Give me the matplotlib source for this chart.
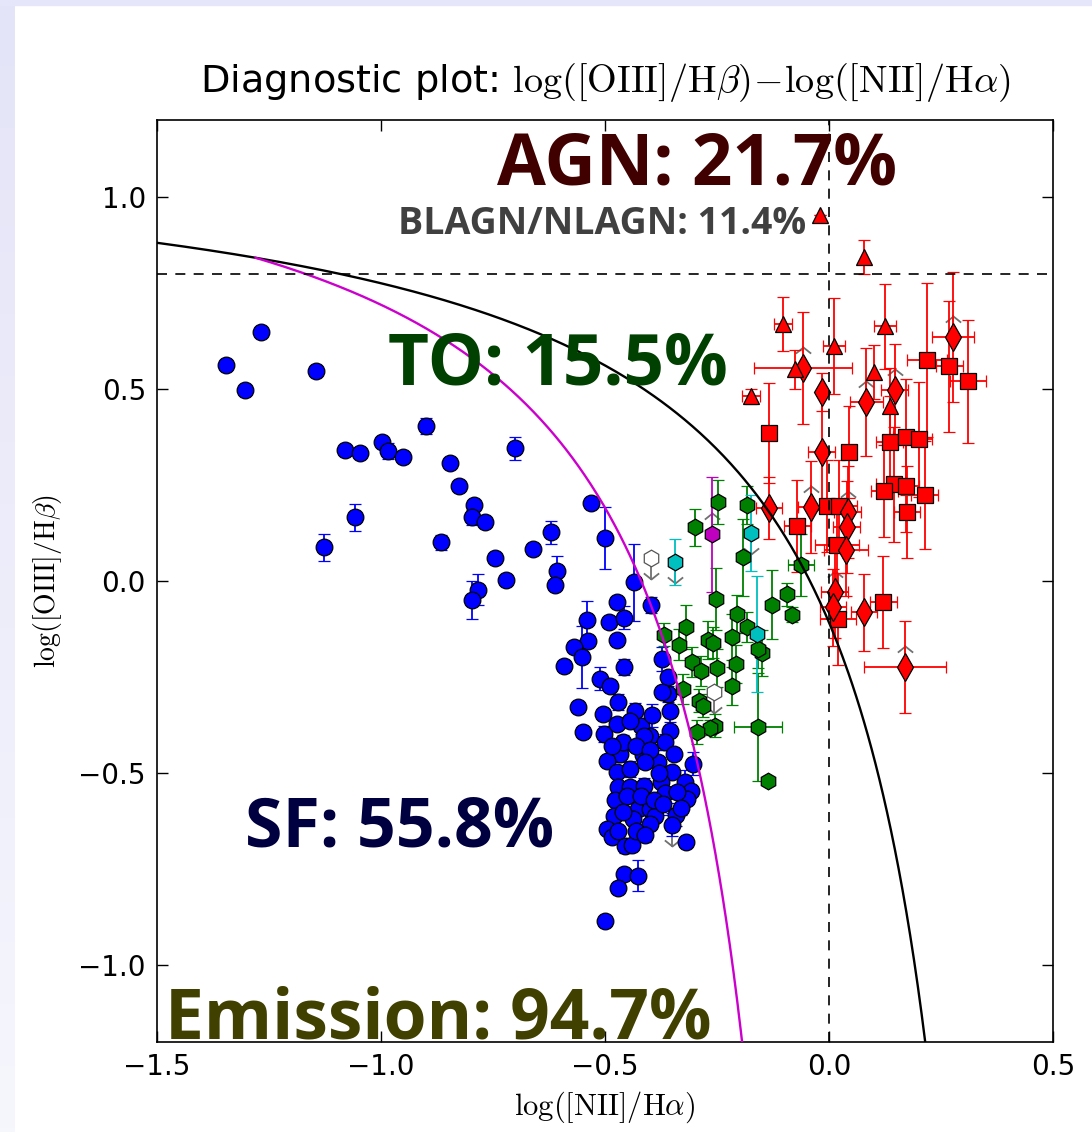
import numpy as np
import matplotlib
matplotlib.use('Agg')
import matplotlib.pyplot as plt
from matplotlib.path import Path
from matplotlib.patches import Rectangle
from matplotlib.colors import LinearSegmentedColormap

plt.rcParams['mathtext.fontset'] = 'cm'
plt.rcParams['font.family'] = ['DejaVu Sans']

# --- star-forming galaxies (blue circles): x, y, y error
sf_x = [-1.268, -1.346, -1.304, -1.145, -0.900, -1.080, -1.047, -0.998, -0.984, -0.951,
        -0.846, -0.826, -0.701, -0.792, -0.797, -0.768, -1.058, -1.127, -0.866, -0.746,
        -0.721, -0.661, -0.621, -0.607, -0.612, -0.531, -0.783, -0.797, -0.540, -0.500,
        -0.435, -0.397, -0.473, -0.491, -0.458, -0.473, -0.538, -0.569, -0.551, -0.592,
        -0.458, -0.511, -0.489, -0.471, -0.560, -0.504, -0.433, -0.549, -0.502, -0.473,
        -0.420, -0.400, -0.373, -0.359, -0.359, -0.355, -0.355, -0.366, -0.467, -0.415,
        -0.496, -0.473, -0.444, -0.382, -0.350, -0.304, -0.471, -0.444, -0.413, -0.375,
        -0.366, -0.321, -0.308, -0.317, -0.478, -0.426, -0.400, -0.388, -0.437, -0.480,
        -0.342, -0.350, -0.400, -0.496, -0.484, -0.455, -0.440, -0.319, -0.458, -0.426,
        -0.471, -0.500, -0.373, -0.444, -0.413,
        -0.460, -0.430, -0.400, -0.450, -0.420, -0.390, -0.460, -0.430, -0.370, -0.340,
        -0.330, -0.410, -0.380, -0.470, -0.410, -0.485, -0.395, -0.345]
sf_y = [0.648, 0.562, 0.497, 0.546, 0.403, 0.341, 0.333, 0.362, 0.338, 0.322,
        0.307, 0.247, 0.346, 0.198, 0.166, 0.153, 0.166, 0.088, 0.101, 0.060,
        0.003, 0.083, 0.127, 0.026, -0.010, 0.203, -0.023, -0.049, -0.101, 0.112,
        -0.003, -0.062, -0.055, -0.107, -0.096, -0.153, -0.156, -0.172, -0.198, -0.221,
        -0.224, -0.255, -0.273, -0.315, -0.328, -0.346, -0.338, -0.393, -0.398, -0.372,
        -0.377, -0.403, -0.203, -0.250, -0.294, -0.338, -0.390, -0.419, -0.450, -0.453,
        -0.468, -0.497, -0.489, -0.471, -0.497, -0.476, -0.536, -0.536, -0.533, -0.523,
        -0.551, -0.523, -0.546, -0.567, -0.570, -0.593, -0.593, -0.611, -0.619, -0.611,
        -0.609, -0.634, -0.632, -0.645, -0.666, -0.689, -0.687, -0.679, -0.762, -0.767,
        -0.798, -0.884, -0.289, -0.364, -0.403,
        -0.420, -0.430, -0.440, -0.560, -0.560, -0.570, -0.600, -0.650, -0.580, -0.550,
        -0.590, -0.470, -0.500, -0.650, -0.660, -0.430, -0.350, -0.450]
sf_yerr = [0, 0, 0, 0, 0.02, 0, 0, 0, 0.02, 0,
           0, 0, 0.03, 0, 0.02, 0, 0.035, 0.035, 0.02, 0,
           0, 0, 0.03, 0.04, 0, 0, 0.04, 0.05, 0.05, 0.08,
           0.10, 0.02, 0, 0, 0.03, 0, 0, 0, 0.08, 0,
           0.02, 0.03, 0, 0.02, 0, 0, 0.02, 0, 0.02, 0,
           0.02, 0, 0.03, 0, 0.02, 0.03, 0, 0.02, 0.02, 0,
           0, 0, 0.02, 0.03, 0, 0.03, 0, 0, 0.02, 0,
           0, 0.03, 0, 0, 0, 0, 0.02, 0, 0, 0,
           0.03, 0.03, 0, 0, 0, 0.02, 0, 0, 0, 0.04,
           0, 0, 0, 0, 0,
           0.02, 0, 0.03, 0, 0.02, 0, 0.02, 0, 0.03, 0,
           0.02, 0, 0.02, 0, 0.02, 0, 0.03, 0]

# --- transition objects (green hexagons)
to_x = [-0.248, -0.183, -0.299, -0.192, -0.0625, -0.252, -0.094, -0.127, -0.083, -0.205,
        -0.183, -0.319, -0.368, -0.335, -0.270, -0.259, -0.217, -0.150, -0.158, -0.306,
        -0.286, -0.250, -0.208, -0.217, -0.326, -0.290, -0.281, -0.254, -0.266, -0.295,
        -0.158, -0.136]
to_y = [0.205, 0.198, 0.140, 0.062, 0.042, -0.047, -0.034, -0.062, -0.088, -0.086,
        -0.120, -0.120, -0.140, -0.166, -0.153, -0.161, -0.146, -0.187, -0.177, -0.211,
        -0.234, -0.226, -0.216, -0.273, -0.281, -0.312, -0.325, -0.377, -0.382, -0.393,
        -0.380, -0.520]
to_xerr = [0, 0, 0, 0, 0.03, 0, 0, 0, 0, 0,
           0, 0, 0, 0, 0, 0, 0, 0, 0, 0,
           0, 0, 0, 0, 0, 0, 0, 0, 0, 0,
           0.053, 0]
to_yerr = [0.057, 0.05, 0.048, 0.10, 0.08, 0.08, 0.03, 0.09, 0.02, 0.05,
           0.04, 0.058, 0.03, 0.04, 0.05, 0.04, 0.06, 0.06, 0.05, 0.04,
           0.04, 0.05, 0.05, 0.05, 0.04, 0.03, 0.03, 0.03, 0.02, 0.03,
           0.14, 0]

# cyan, magenta and white transition objects
cy_x = [-0.344, -0.174, -0.161]
cy_y = [0.049, 0.125, -0.138]
cy_yerr = [0.06, 0.10, 0.15]
mg_x = [-0.261]
mg_y = [0.122]
mg_yerr = [0.15]
wh_x = [-0.397, -0.257]
wh_y = [0.060, -0.289]

# --- AGN (red): squares, diamonds, triangles
sq_x = [0.219, 0.268, 0.310, -0.134, 0.045, 0.136, 0.172, 0.201, 0.145, 0.172,
        0.123, 0.214, 0.174, -0.004, 0.022, -0.071, 0.018, 0.020, 0.121]
sq_y = [0.575, 0.559, 0.520, 0.385, 0.335, 0.362, 0.375, 0.369, 0.252, 0.247,
        0.234, 0.224, 0.179, 0.195, 0.195, 0.143, 0.094, -0.099, -0.055]
sq_xerr = [0.045, 0.03, 0.04, 0, 0, 0.03, 0.03, 0.03, 0.04, 0.03,
           0.03, 0.03, 0.03, 0.04, 0.04, 0.03, 0.05, 0.04, 0.03]
sq_yerr = [0.20, 0.17, 0.16, 0.13, 0.12, 0.12, 0.15, 0.15, 0.15, 0.12,
           0.12, 0.14, 0.12, 0.12, 0.12, 0.12, 0.12, 0.12, 0.12]

dm_x = [-0.058, -0.016, 0.083, 0.147, 0.277, -0.016, -0.040, -0.134, 0.042, 0.040,
        0.038, 0.013, 0.009, 0.078, 0.170]
dm_y = [0.554, 0.492, 0.466, 0.497, 0.635, 0.335, 0.192, 0.190, 0.179, 0.140,
        0.081, -0.029, -0.068, -0.081, -0.224]
dm_xerr = [0.11, 0, 0.037, 0.03, 0.047, 0.03, 0.03, 0.03, 0.03, 0.03,
           0.05, 0.03, 0.03, 0.03, 0.092]
dm_yerr = [0.146, 0.05, 0.14, 0.12, 0.17, 0.15, 0.12, 0.08, 0.12, 0.12,
           0.12, 0.12, 0.10, 0.10, 0.12]
dm_lolim = [True, False, True, True, True, False, True, False, True, False,
            False, True, False, False, True]

tr_x = [-0.020, 0.078, -0.103, 0.011, 0.125, -0.076, 0.100, -0.174, 0.136]
tr_y = [0.954, 0.843, 0.668, 0.611, 0.663, 0.551, 0.544, 0.481, 0.455]
tr_xerr = [0, 0, 0.02, 0.025, 0.025, 0, 0, 0.02, 0]
tr_yerr = [0, 0.045, 0.07, 0.125, 0.11, 0.05, 0.07, 0.02, 0.10]

# upper limits on [OIII]/Hb (arrows pointing down)
ul_x = [-0.397, -0.257, -0.344, -0.174, -0.350]
ul_y = [0.060, -0.289, 0.049, 0.125, -0.634]

labels = [('AGN: 21.7%', -0.741, 1.032, 51, '#400000'),
          ('BLAGN/NLAGN: 11.4%', -0.962, 0.902, 27, '#404040'),
          ('TO: 15.5%', -0.984, 0.512, 51, '#004000'),
          ('SF: 55.8%', -1.304, -0.692, 49, '#000040'),
          ('Emission: 94.7%', -1.482, -1.191, 50, '#404000')]

ARROW = 0.055
chev_up = Path([(-1, -0.8), (0, 0), (1, -0.8)], [Path.MOVETO, Path.LINETO, Path.LINETO])
chev_dn = Path([(-1, 0.8), (0, 0), (1, 0.8)], [Path.MOVETO, Path.LINETO, Path.LINETO])

fig = plt.figure(figsize=(10.92, 11.32), dpi=100)
fig.patch.set_facecolor('white')

# slide background strips
bg = fig.add_axes([0, 0, 15 / 1092, 1])
bg.imshow(np.linspace(0, 1, 256)[:, None], aspect='auto',
          cmap=LinearSegmentedColormap.from_list('lav', ['#e4e4f8', '#f6f6fd']))
bg.axis('off')
fig.patches.append(Rectangle((0, 1 - 5 / 1132), 1, 5 / 1132, transform=fig.transFigure,
                             color='#e6e6fa', zorder=0))

ax = fig.add_axes([157 / 1092, 1 - 1042 / 1132, 896 / 1092, 922 / 1132])


def draw_group(x, y, xerr, yerr, marker, color, ms):
    ax.errorbar(x, y, xerr=xerr, yerr=yerr, fmt=marker, color=color, ecolor=color,
                mfc=color, mec='k', mew=0.9, ms=ms, capsize=4, elinewidth=1.3,
                capthick=1.3, zorder=3)


def draw_limits(x, y, sign):
    tips = np.asarray(y) + sign * ARROW
    for xi, yi, ti in zip(x, y, tips):
        ax.plot([xi, xi], [yi, ti], color='#707070', lw=1.3, zorder=2.5)
    ax.plot(x, tips, ls='none', marker=chev_up if sign > 0 else chev_dn, ms=11,
            mec='#707070', mfc='none', mew=1.3, zorder=2.5)


# demarcation lines
xk = np.linspace(-1.5, 0.2155, 400)
ax.plot(xk, 0.61 / (xk - 0.47) + 1.19, color='k', lw=1.7, zorder=5)
xa = np.linspace(-1.28, -0.194, 400)
ax.plot(xa, 0.61 / (xa - 0.05) + 1.3, color='#cc00cc', lw=1.7, zorder=5)
ax.axhline(0.8, color='k', ls=(0, (6, 5)), lw=1.2, zorder=5)
ax.axvline(0.0, color='k', ls=(0, (6, 5)), lw=1.2, zorder=5)

draw_limits(ul_x, ul_y, -1)
draw_limits(mg_x, mg_y, 1)
draw_limits([x for x, f in zip(dm_x, dm_lolim) if f],
            [y for y, f in zip(dm_y, dm_lolim) if f], 1)

draw_group(sf_x, sf_y, None, sf_yerr, 'o', 'blue', 12)
draw_group(to_x, to_y, to_xerr, to_yerr, 'h', 'green', 12)
draw_group(cy_x, cy_y, None, cy_yerr, 'h', 'c', 12)
draw_group(mg_x, mg_y, None, mg_yerr, 'h', 'm', 12)
ax.plot(wh_x, wh_y, 'h', mfc='white', mec='#555555', mew=0.9, ms=12, zorder=3)
draw_group(sq_x, sq_y, sq_xerr, sq_yerr, 's', 'red', 12)
draw_group(dm_x, dm_y, dm_xerr, dm_yerr, 'd', 'red', 14)
draw_group(tr_x, tr_y, tr_xerr, tr_yerr, '^', 'red', 11)

for txt, tx, ty, fs, col in labels:
    ax.text(tx, ty, txt, fontsize=fs, color=col, fontweight='bold',
            family=['Open Sans', 'DejaVu Sans'], ha='left', va='baseline', zorder=6)

ax.set_xlim(-1.5, 0.5)
ax.set_ylim(-1.2, 1.2)
ax.set_xticks([-1.5, -1.0, -0.5, 0.0, 0.5])
ax.set_yticks([-1.0, -0.5, 0.0, 0.5, 1.0])
ax.tick_params(direction='in', top=True, right=True, length=8, width=1,
               labelsize=20, pad=8)
for sp in ax.spines.values():
    sp.set_linewidth(1.2)

ax.set_title(r'Diagnostic plot: $\log([\mathrm{OIII}]/\mathrm{H}\beta)\!-\!\log([\mathrm{NII}]/\mathrm{H}\alpha)$',
             fontsize=27.5, pad=20)
ax.set_xlabel(r'$\log([\mathrm{NII}]/\mathrm{H}\alpha)$', fontsize=22, labelpad=6)
ax.set_ylabel(r'$\log([\mathrm{OIII}]/\mathrm{H}\beta)$', fontsize=20, labelpad=10)

fig.savefig('out.png', dpi=100)
